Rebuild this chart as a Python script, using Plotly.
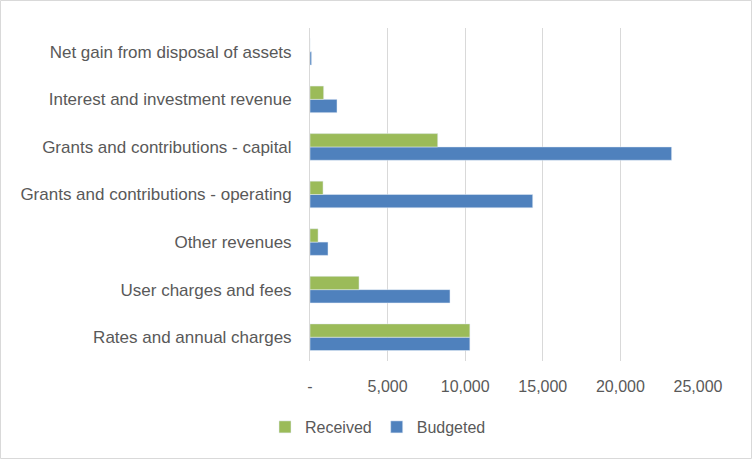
import plotly.graph_objects as go

categories = [
    "Rates and annual charges",
    "User charges and fees",
    "Other revenues",
    "Grants and contributions - operating",
    "Grants and contributions - capital",
    "Interest and investment revenue",
    "Net gain from disposal of assets",
]
received = [10300, 3160, 520, 840, 8230, 880, 0]
budgeted = [10300, 9020, 1160, 14350, 23300, 1740, 100]

tick_vals = [0, 5000, 10000, 15000, 20000, 25000]
tick_text = ["-", "5,000", "10,000", "15,000", "20,000", "25,000"]

W, H = 752, 459
ml, mr, mt, mb = 310, 54, 28, 98
pw, ph = W - ml - mr, H - mt - mb

fig = go.Figure()
fig.add_trace(go.Bar(y=categories, x=budgeted, name="Budgeted", orientation="h",
                     marker_color="#4F81BD", legendrank=2))
fig.add_trace(go.Bar(y=categories, x=received, name="Received", orientation="h",
                     marker_color="#9BBB59", legendrank=1))

font = dict(family="Liberation Sans, Arial, sans-serif", size=16, color="#595959")
fig.update_layout(
    width=W, height=H,
    margin=dict(l=ml, r=mr, t=mt, b=mb),
    barmode="group", bargap=0.44, bargroupgap=0,
    plot_bgcolor="white", paper_bgcolor="white",
    font=font,
    showlegend=True,
    legend=dict(orientation="h", x=(378 - ml) / pw, xanchor="center",
                y=(mt + ph - 427) / ph, yanchor="middle", font=font,
                itemwidth=30, traceorder="normal"),
    xaxis=dict(range=[0, 25000], tickvals=tick_vals, ticktext=tick_text,
               showgrid=True, gridcolor="#D9D9D9", gridwidth=1,
               zeroline=False, showline=False, ticks="", ticklabelstandoff=14),
    yaxis=dict(categoryorder="array", categoryarray=categories,
               showgrid=False, showline=True, linecolor="#D9D9D9", linewidth=1,
               ticks="", ticklabelstandoff=14, tickfont=dict(size=17)),
    shapes=[dict(type="rect", xref="paper", yref="paper",
                 x0=-ml / pw + 0.5 / pw, x1=(W - ml - 0.5) / pw,
                 y0=-mb / ph + 0.5 / ph, y1=(H - mb - 0.5) / ph,
                 line=dict(color="#D9D9D9", width=1), layer="below")],
)
fig.write_html("out.html", config={"displayModeBar": False},
               post_script="document.body.style.margin='0';document.body.style.overflow='hidden';")
